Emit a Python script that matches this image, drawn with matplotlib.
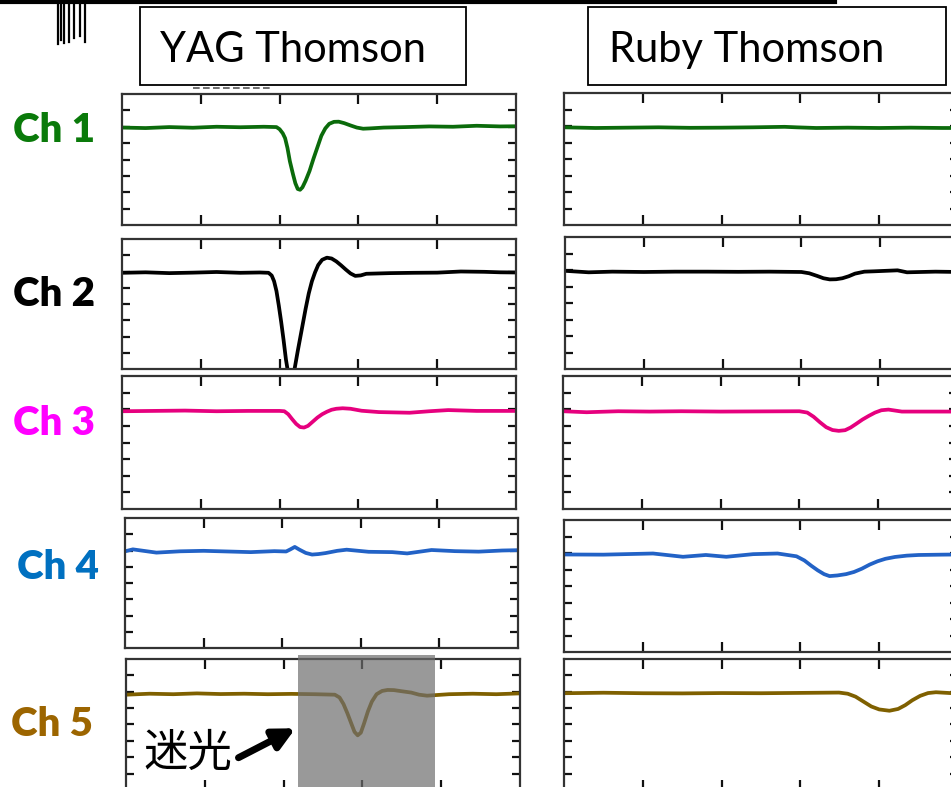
import matplotlib
matplotlib.use("Agg")
import matplotlib.pyplot as plt
from matplotlib.patches import Rectangle, FancyArrowPatch
from matplotlib.lines import Line2D

W, H = 951, 787

# ---------------- data ----------------
channels = ["Ch 1", "Ch 2", "Ch 3", "Ch 4", "Ch 5"]
label_colors = ["#0a7a0a", "#000000", "#ff00ff", "#0070c0", "#9c6500"]
line_colors = ["#0b6b0b", "#000000", "#e6007e", "#2262c6", "#7f6000"]
titles = ["YAG Thomson", "Ruby Thomson"]
stray_label = "迷光"

yag_x = [
    [0, 0.3, 0.6, 0.9, 1.2, 1.5, 1.8, 1.96, 2.0, 2.04, 2.07, 2.1, 2.13, 2.17, 2.2, 2.23, 2.26, 2.29, 2.33, 2.38, 2.43,
     2.48, 2.53, 2.58, 2.63, 2.69, 2.75, 2.82, 2.9, 2.98, 3.06, 3.15, 3.32, 3.6, 3.9, 4.2, 4.5, 4.8, 5.0],
    [0, 0.3, 0.6, 0.9, 1.2, 1.5, 1.75, 1.86, 1.9, 1.93, 1.96, 1.99, 2.02, 2.05, 2.08, 2.12, 2.16, 2.19, 2.23, 2.28,
     2.33, 2.37, 2.41, 2.45, 2.49, 2.54, 2.6, 2.66, 2.72, 2.78, 2.84, 2.9, 2.96, 3.03, 3.1, 3.4, 3.7, 4.0, 4.3, 4.6,
     4.8, 5.0],
    [0, 0.4, 0.8, 1.2, 1.6, 2.0, 2.06, 2.11, 2.16, 2.21, 2.26, 2.31, 2.36, 2.42, 2.48, 2.54, 2.6, 2.66, 2.72, 2.8,
     2.9, 3.04, 3.26, 3.45, 3.65, 3.9, 4.14, 4.5, 5.0],
    [0, 0.1, 0.4, 0.7, 1.0, 1.3, 1.6, 1.9, 2.05, 2.1, 2.16, 2.22, 2.3, 2.38, 2.46, 2.55, 2.7, 2.82, 3.1, 3.4, 3.59,
     3.9, 4.2, 4.5, 4.8, 5.0],
    [0, 0.3, 0.6, 0.9, 1.2, 1.5, 1.8, 2.1, 2.4, 2.65, 2.71, 2.76, 2.81, 2.86, 2.9, 2.94, 2.98, 3.02, 3.07, 3.12, 3.18,
     3.25, 3.32, 3.4, 3.5, 3.62, 3.72, 3.82, 4.1, 4.4, 4.7, 5.0],
]
yag_y = [
    [-0.05, -0.08, -0.02, -0.06, 0.0, -0.03, 0.0, -0.02, -0.15, -0.4, -0.7, -1.3, -2.1, -2.9, -3.45, -3.8, -3.85, -3.7,
     -3.3, -2.7, -1.95, -1.25, -0.55, -0.1, 0.18, 0.3, 0.31, 0.22, 0.08, -0.05, -0.12, -0.1, -0.05, -0.02, 0.02, 0.0,
     0.06, 0.02, 0.03],
    [-0.08, -0.05, -0.1, -0.07, -0.03, -0.08, -0.06, -0.08, -0.25, -0.6, -1.2, -2.1, -3.1, -4.2, -5.4, -6.6, -6.6,
     -6.0, -4.9, -3.6, -2.3, -1.35, -0.6, -0.05, 0.4, 0.72, 0.85, 0.8, 0.62, 0.38, 0.12, -0.12, -0.27, -0.24, -0.14,
     -0.1, -0.08, -0.07, 0.0, -0.02, -0.05, -0.06],
    [-0.12, -0.1, -0.08, -0.12, -0.1, -0.1, -0.12, -0.3, -0.6, -0.88, -1.07, -1.1, -1.0, -0.75, -0.5, -0.3, -0.15,
     -0.03, 0.03, 0.06, 0.03, -0.09, -0.17, -0.19, -0.21, -0.12, -0.05, -0.1, -0.1],
    [-0.05, 0.07, -0.13, -0.05, -0.02, -0.06, -0.1, -0.04, -0.06, 0.06, 0.22, 0.05, -0.15, -0.25, -0.22, -0.16, -0.02,
     0.05, -0.08, -0.1, -0.18, 0.03, -0.04, -0.07, 0.0, 0.02],
    [-0.18, -0.12, -0.15, -0.1, -0.14, -0.12, -0.15, -0.13, -0.15, -0.18, -0.35, -0.75, -1.32, -1.95, -2.45, -2.66,
     -2.5, -1.95, -1.2, -0.6, -0.15, 0.05, 0.11, 0.1, 0.03, -0.05, -0.18, -0.24, -0.15, -0.12, -0.15, -0.1],
]
ruby_x = [
    [0, 0.4, 0.8, 1.2, 1.6, 2.0, 2.4, 2.8, 2.95, 3.2, 3.6, 4.0, 4.4, 4.8, 5.0],
    [0, 0.3, 0.6, 1.0, 1.4, 1.8, 2.2, 2.6, 3.0, 3.1, 3.2, 3.28, 3.36, 3.44, 3.52, 3.6, 3.68, 3.8, 3.92, 4.22, 4.34,
     4.7, 5.0],
    [0, 0.3, 0.7, 1.1, 1.5, 2.0, 2.5, 3.0, 3.1, 3.18, 3.26, 3.34, 3.42, 3.5, 3.58, 3.65, 3.72, 3.8, 3.88, 3.96, 4.04,
     4.13, 4.3, 4.7, 5.0],
    [0, 0.5, 1.13, 1.51, 1.8, 2.06, 2.4, 2.71, 2.95, 3.05, 3.14, 3.22, 3.3, 3.37, 3.47, 3.58, 3.68, 3.78, 3.88, 3.98,
     4.08, 4.2, 4.35, 4.5, 4.8, 5.0],
    [0, 0.5, 1.0, 1.5, 2.0, 2.5, 3.0, 3.49, 3.6, 3.7, 3.8, 3.9, 4.0, 4.13, 4.24, 4.33, 4.42, 4.52, 4.62, 4.72, 4.9,
     5.0],
]
ruby_y = [
    [-0.08, -0.12, -0.1, -0.08, -0.11, -0.1, -0.08, -0.05, -0.08, -0.12, -0.1, -0.12, -0.1, -0.12, -0.12],
    [-0.05, -0.14, -0.1, -0.12, -0.1, -0.1, -0.11, -0.1, -0.12, -0.2, -0.36, -0.5, -0.57, -0.56, -0.5, -0.38, -0.22,
     -0.1, -0.08, -0.02, -0.14, -0.1, -0.12],
    [-0.12, -0.18, -0.12, -0.14, -0.12, -0.14, -0.13, -0.12, -0.2, -0.45, -0.78, -1.08, -1.25, -1.3, -1.26, -1.1,
     -0.88, -0.62, -0.4, -0.2, -0.06, -0.02, -0.14, -0.14, -0.14],
    [-0.09, -0.1, -0.03, -0.23, -0.12, -0.23, -0.07, -0.03, -0.2, -0.45, -0.78, -1.05, -1.28, -1.4, -1.36, -1.28,
     -1.15, -0.95, -0.7, -0.5, -0.35, -0.24, -0.16, -0.12, -0.1, -0.09],
    [-0.09, -0.06, -0.09, -0.1, -0.08, -0.09, -0.07, -0.05, -0.12, -0.3, -0.6, -0.9, -1.08, -1.16, -1.05, -0.82, -0.52,
     -0.25, -0.08, -0.03, -0.08, -0.09],
]

# ---------------- layout (pixels) ----------------
left_boxes = [(122, 94, 394, 131), (122, 239, 394, 130), (122, 376, 394, 133),
              (125, 518, 393, 130), (126, 659, 394, 131)]
right_boxes = [(564, 93, 394, 132), (565, 237, 394, 132), (563, 376, 394, 133),
               (564, 520, 394, 132), (564, 659, 394, 131)]
label_pos = [(13, 142), (13, 306), (13, 435), (17, 579), (11, 736)]

fig = plt.figure(figsize=(W / 100, H / 100), dpi=100)
fig.patch.set_facecolor("white")


def fx(px):
    return px / W


def fy(py):
    return 1 - py / H


def make_axes(box):
    x, y, w, h = box
    ax = fig.add_axes([fx(x), fy(y + h), w / W, h / H])
    ax.set_xlim(0, 5)
    ax.set_ylim(-6, 2)
    ax.set_xticks([1, 2, 3, 4])
    ax.set_yticks([-5, -4, -3, -2, -1, 0, 1])
    ax.set_xticklabels([])
    ax.set_yticklabels([])
    ax.tick_params(axis="x", direction="in", length=7.5, width=1.6, top=True, bottom=True, color="#111111")
    ax.tick_params(axis="y", direction="in", length=5.5, width=1.6, left=True, right=True, color="#111111")
    for s in ax.spines.values():
        s.set_linewidth(1.6)
        s.set_color("#333333")
    return ax


for i in range(5):
    axl = make_axes(left_boxes[i])
    axl.plot(yag_x[i], yag_y[i], color=line_colors[i], lw=2.7, solid_joinstyle="round", solid_capstyle="round")
    axr = make_axes(right_boxes[i])
    axr.plot(ruby_x[i], ruby_y[i], color=line_colors[i], lw=2.7, solid_joinstyle="round", solid_capstyle="round")
    fig.text(fx(label_pos[i][0]), fy(label_pos[i][1]), channels[i], color=label_colors[i],
             fontsize=29, fontweight="heavy", family="Lato", ha="left", va="baseline")

# title boxes
for (x0, y0, x1, y1), tx, t in [((140, 7, 466, 85), 160, titles[0]), ((588, 7, 946, 85), 609, titles[1])]:
    fig.add_artist(Rectangle((fx(x0), fy(y1)), (x1 - x0) / W, (y1 - y0) / H, transform=fig.transFigure,
                             facecolor="white", edgecolor="black", lw=1.3))
    fig.text(fx(tx), fy(62), t, fontsize=30, family="Lato", ha="left", va="baseline", color="black")

# gray stray-light overlay
fig.add_artist(Rectangle((fx(298), 0), (435 - 298) / W, (787 - 655) / H, transform=fig.transFigure,
                         facecolor="#6e6e6e", edgecolor="none", alpha=0.7, zorder=10))

# stray light label + arrow
fig.text(fx(188), fy(753), stray_label, fontsize=32, family=["Noto Sans CJK JP", "DejaVu Sans"],
         ha="center", va="center", color="black", zorder=11)
fig.add_artist(FancyArrowPatch((fx(236), fy(759)), (fx(298), fy(727)),
                               transform=fig.transFigure, arrowstyle="-|>",
                               mutation_scale=32, lw=5, color="black", zorder=11))

# cropped remnants of an adjacent figure at the top edge
fig.add_artist(Line2D([fx(0), fx(835)], [fy(1.5), fy(1.5)], transform=fig.transFigure, color="black", lw=3))
for vx, vy in [(58, 44), (61, 40), (64, 43), (69, 42), (74, 38), (80, 36), (85, 42)]:
    fig.add_artist(Line2D([fx(vx), fx(vx)], [fy(0), fy(vy)], transform=fig.transFigure, color="black", lw=1.6))
fig.add_artist(Line2D([fx(193), fx(272)], [fy(87.5), fy(87.5)], transform=fig.transFigure,
                      color="#555555", lw=1.2, ls=(0, (4, 2))))

fig.savefig("out.png", dpi=100, facecolor="white")
